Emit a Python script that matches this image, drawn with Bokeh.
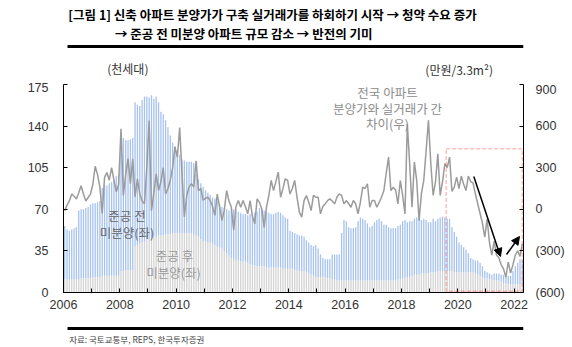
from bokeh.plotting import figure
from bokeh.layouts import column
from bokeh.models import (Range1d, LinearAxis, FixedTicker, Label, BoxAnnotation,
                          Arrow, NormalHead, ColumnDataSource)
from bokeh.embed import file_html
from bokeh.resources import INLINE

# ---------------- data (monthly, 2006-01 .. 2022-04) ----------------
years = list(range(2006, 2023))
year_labels = [str(y) for y in years]

total_2006 = [56, 53, 52, 53, 54, 55, 69, 70, 70, 71, 72, 74]
total_2007 = [75, 75, 76, 77, 88, 90, 90, 92, 93, 95, 98, 100]
total_2008 = [131, 130, 128, 128, 129, 130, 160, 158, 157, 162, 165, 165]
total_2009 = [164, 166, 163, 165, 160, 152, 150, 145, 139, 132, 126, 123]
total_2010 = [120, 116, 112, 111, 110, 110, 110, 109, 100, 95, 92, 89]
total_2011 = [86, 84, 82, 80, 79, 77, 74, 72, 71, 70, 69, 70]
total_2012 = [70, 69, 68, 67, 66, 66, 65, 66, 66, 67, 68, 71]
total_2013 = [70, 69, 68, 67, 66, 66, 67, 68, 67, 65, 63, 62]
total_2014 = [52, 51, 50, 49, 48, 48, 47, 44, 42, 40, 39, 40]
total_2015 = [37, 32, 29, 28, 28, 28, 32, 32, 32, 32, 50, 61]
total_2016 = [60, 55, 54, 54, 55, 60, 63, 62, 61, 58, 55, 56]
total_2017 = [59, 61, 62, 60, 57, 57, 55, 54, 54, 54, 56, 57]
total_2018 = [60, 61, 59, 60, 60, 62, 63, 62, 61, 62, 61, 59]
total_2019 = [59, 62, 60, 62, 63, 64, 63, 62, 62, 55, 51, 47]
total_2020 = [42, 40, 38, 36, 33, 29, 28, 27, 27, 25, 22, 18]
total_2021 = [17, 16, 15, 16, 16, 16, 15, 15, 14, 14, 14, 18]
total_2022 = [22, 25, 28, 27]

after_2006 = [11, 11, 11, 11, 11, 11, 11, 12, 12, 12, 12, 12]
after_2007 = [13, 13, 13, 13, 14, 14, 14, 14, 14, 14, 14, 14]
after_2008 = [18, 18, 19, 19, 19, 19, 39, 40, 41, 42, 43, 45]
after_2009 = [45, 46, 47, 47, 48, 48, 48, 49, 49, 49, 50, 50]
after_2010 = [50, 50, 50, 50, 50, 50, 50, 49, 48, 47, 45, 43]
after_2011 = [43, 42, 42, 41, 40, 39, 38, 37, 35, 33, 31, 29]
after_2012 = [28, 27, 27, 26, 26, 26, 25, 24, 23, 23, 22, 22]
after_2013 = [22, 22, 21, 21, 21, 21, 21, 21, 21, 20, 20, 20]
after_2014 = [20, 20, 19, 19, 18, 18, 18, 17, 16, 15, 14, 13]
after_2015 = [13, 13, 13, 13, 12, 12, 11, 11, 10, 10, 10, 10]
after_2016 = [10, 10, 10, 10, 10, 10, 10, 10, 10, 10, 10, 10]
after_2017 = [10, 10, 10, 10, 10, 10, 10, 10, 10, 10, 11, 11]
after_2018 = [12, 12, 13, 13, 14, 15, 15, 15, 16, 16, 16, 16]
after_2019 = [17, 17, 17, 18, 18, 18, 18, 18, 18, 18, 17, 17]
after_2020 = [17, 17, 17, 17, 17, 17, 17, 16, 15, 14, 13, 12]
after_2021 = [12, 11, 11, 10, 10, 10, 9, 8, 8, 7, 7, 7]
after_2022 = [7, 7, 7, 7]

gap_2006 = [-10, 30, 60, 110, 95, 75, 120, 170, 110, 60, 85, 110]
gap_2007 = [180, 310, 250, 160, -30, 230, 265, 210, 300, 210, 125, 180]
gap_2008 = [580, 100, 250, 365, 185, 365, 90, 220, 110, 60, 40, 300]
gap_2009 = [640, -10, 120, 255, 135, 200, 300, 110, 150, 210, 300, 450]
gap_2010 = [375, 590, 255, -55, 100, 160, 185, 160, 350, 135, 150, 65]
gap_2011 = [80, 87, 63, 20, -45, 110, 20, -80, -10, 135, 60, 15]
gap_2012 = [-150, 20, 63, 15, 63, 20, -33, 63, -50, -105, 75, 50]
gap_2013 = [0, -130, 15, 100, 208, 135, 200, 268, 87, 150, 220, 208]
gap_2014 = [110, 150, 208, 87, -20, -57, 63, 99, 50, -9, 100, 87]
gap_2015 = [87, -33, 20, 39, 63, 75, 60, 39, 87, 111, 100, 39]
gap_2016 = [63, 40, 15, 63, 40, -33, 51, 159, 150, 184, 15, 63]
gap_2017 = [63, 15, 50, 87, 135, 260, 376, 135, 159, 140, 39, 208]
gap_2018 = [100, -33, 617, 328, 15, 340, 208, -82, 111, 208, 420, 641]
gap_2019 = [330, 100, 200, 400, 100, 200, 330, 300, 376, 130, 160, 232]
gap_2020 = [150, 240, 180, 135, 240, 200, 190, 110, 40, -30, -100, -200]
gap_2021 = [-70, -240, -330, -230, -330, -350, -400, -430, -490, -380, -460, -400]
gap_2022 = [-330, -300, -340, -250]

total = (total_2006 + total_2007 + total_2008 + total_2009 + total_2010 + total_2011 +
         total_2012 + total_2013 + total_2014 + total_2015 + total_2016 + total_2017 +
         total_2018 + total_2019 + total_2020 + total_2021 + total_2022)
after = (after_2006 + after_2007 + after_2008 + after_2009 + after_2010 + after_2011 +
         after_2012 + after_2013 + after_2014 + after_2015 + after_2016 + after_2017 +
         after_2018 + after_2019 + after_2020 + after_2021 + after_2022)
gap = (gap_2006 + gap_2007 + gap_2008 + gap_2009 + gap_2010 + gap_2011 + gap_2012 +
       gap_2013 + gap_2014 + gap_2015 + gap_2016 + gap_2017 + gap_2018 + gap_2019 +
       gap_2020 + gap_2021 + gap_2022)

n = len(total)
month_x = [i + 0.5 for i in range(n)]
src = ColumnDataSource(dict(x=month_x, total=total, after=after, gap=gap))

W = 572
HEAD_H, FOOT_H = 82, 29
MAIN_H = 347 - HEAD_H - FOOT_H
KFONT = "Noto Sans CJK KR"
TICK_FONT = "Liberation Sans"


def panel(h):
    f = figure(width=W, height=h, x_range=Range1d(0, W), y_range=Range1d(h, 0),
               output_backend="svg", toolbar_location=None,
               x_axis_location=None, y_axis_location=None,
               min_border=0, min_border_left=0, min_border_right=0,
               min_border_top=0, min_border_bottom=0)
    f.xgrid.visible = False
    f.ygrid.visible = False
    f.outline_line_color = None
    f.background_fill_color = "white"
    f.border_fill_color = "white"
    return f


def put(f, x, y, text, size="12.5px", color="#333333", align="center", bold=False,
        font=KFONT):
    f.add_layout(Label(x=x, y=y, text=text, text_font=font, text_font_size=size,
                       text_color=color, text_align=align, text_baseline="middle",
                       text_font_style="bold" if bold else "normal"))


# ---------------- header ----------------
head = panel(HEAD_H)
put(head, 6, 14, "[그림 1] 신축 아파트 분양가가 구축 실거래가를 하회하기 시작 → 청약 수요 증가",
    size="12.5px", color="black", align="left", bold=True)
put(head, 64, 33, "→ 준공 전 미분양 아파트 규모 감소 → 반전의 기미",
    size="12.5px", color="black", align="left", bold=True)
head.add_layout(BoxAnnotation(left=5, right=W, top=44.5, bottom=47.5,
                              fill_color="black", fill_alpha=1, line_color=None))
put(head, 80, 68, "(천세대)", size="12px")
put(head, 492, 69, "(만원/3.3m²)", size="12px")

# ---------------- main chart ----------------
L, R, T, B = 63, 49, 84 - HEAD_H, 26
p = figure(width=W, height=MAIN_H, x_range=Range1d(0, n), y_range=Range1d(0, 175),
           output_backend="svg", toolbar_location=None,
           min_border_left=L, min_border_right=R, min_border_top=T, min_border_bottom=B)
p.extra_y_ranges = {"right": Range1d(-600, 900)}
p.xgrid.visible = False
p.ygrid.visible = False
p.outline_line_color = None
p.background_fill_color = "white"
p.border_fill_color = "white"

FW = W - L - R
FH = MAIN_H - T - B
TOP = HEAD_H + T  # absolute y of frame top


def dx(px):
    return (px - L) * n / FW


def dy(py):
    return (TOP + FH - py) * 175 / FH


p.vbar(x="x", top="after", bottom=0, width=0.55, source=src,
       fill_color="#d3d3d3", line_color=None)
p.vbar(x="x", top="total", bottom="after", width=0.55, source=src,
       fill_color="#a6c2ef", line_color=None)
p.line(x="x", y="gap", source=src, y_range_name="right",
       line_color="#9b9b9b", line_width=1.5)

xa = p.xaxis[0]
xa.ticker = FixedTicker(ticks=[12 * i for i in range(len(years))])
xa.major_label_overrides = {12 * i: (year_labels[i] if i % 2 == 0 else "")
                            for i in range(len(years))}
xa.major_tick_in = 4
xa.major_tick_out = 0
xa.minor_tick_line_color = None
xa.axis_line_color = "black"
xa.major_tick_line_color = "black"
xa.major_label_text_font = TICK_FONT
xa.major_label_text_font_size = "12.5px"
xa.major_label_text_color = "#333333"
xa.major_label_standoff = 7

ya = p.yaxis[0]
ya.ticker = FixedTicker(ticks=[0, 35, 70, 105, 140, 175])
ya.major_tick_in = 4
ya.major_tick_out = 0
ya.minor_tick_line_color = None
ya.axis_line_color = "black"
ya.major_label_text_font = TICK_FONT
ya.major_label_text_font_size = "12.5px"
ya.major_label_text_color = "#333333"
ya.major_label_standoff = 15

ra = LinearAxis(y_range_name="right",
                ticker=FixedTicker(ticks=[-600, -300, 0, 300, 600, 900]))
ra.major_label_overrides = {-600: "(600)", -300: "(300)", 0: "0", 300: "300",
                            600: "600", 900: "900"}
ra.major_tick_in = 4
ra.major_tick_out = 0
ra.minor_tick_line_color = None
ra.axis_line_color = "black"
ra.major_label_text_font = TICK_FONT
ra.major_label_text_font_size = "12.5px"
ra.major_label_text_color = "#333333"
ra.major_label_standoff = 12
p.add_layout(ra, "right")


def lab(px, py, text, color):
    p.add_layout(Label(x=dx(px), y=dy(py), text=text, text_font=KFONT,
                       text_font_size="12.5px", text_color=color, text_align="center",
                       text_baseline="middle"))


lab(126.5, 215, "준공 전", "#666666")
lab(126.5, 231.7, "미분양(좌)", "#666666")
lab(174, 255, "준공 후", "#999999")
lab(173, 271.7, "미분양(좌)", "#999999")
lab(387, 92, "전국 아파트", "#8c8c8c")
lab(387, 107.5, "분양가와 실거래가 간", "#8c8c8c")
lab(387, 123, "차이(우)", "#8c8c8c")

# red dashed highlight box (kept just inside the frame)
p.add_layout(BoxAnnotation(left=dx(445.7), right=dx(521.8), top=dy(148.3), bottom=dy(290.8),
                           fill_alpha=0, line_color="#ff2a2a", line_width=1.5,
                           line_dash="4 2"))

p.add_layout(Arrow(x_start=dx(473.3), y_start=dy(176), x_end=dx(500), y_end=dy(256),
                   line_color="black", line_width=1.5,
                   end=NormalHead(size=8, fill_color="black", line_color="black")))
p.add_layout(Arrow(x_start=dx(506), y_start=dy(254), x_end=dx(519), y_end=dy(236),
                   line_color="black", line_width=1.5,
                   end=NormalHead(size=8, fill_color="black", line_color="black")))

# ---------------- footer ----------------
foot = panel(FOOT_H)
foot.add_layout(BoxAnnotation(left=5, right=W, top=8.5, bottom=11.5,
                              fill_color="black", fill_alpha=1, line_color=None))
put(foot, 7, 20, "자료: 국토교통부, REPS, 한국투자증권", size="8.5px", color="#444444",
    align="left")

layout = column(head, p, foot, spacing=0)
open("out.html", "w").write(file_html(layout, INLINE))
